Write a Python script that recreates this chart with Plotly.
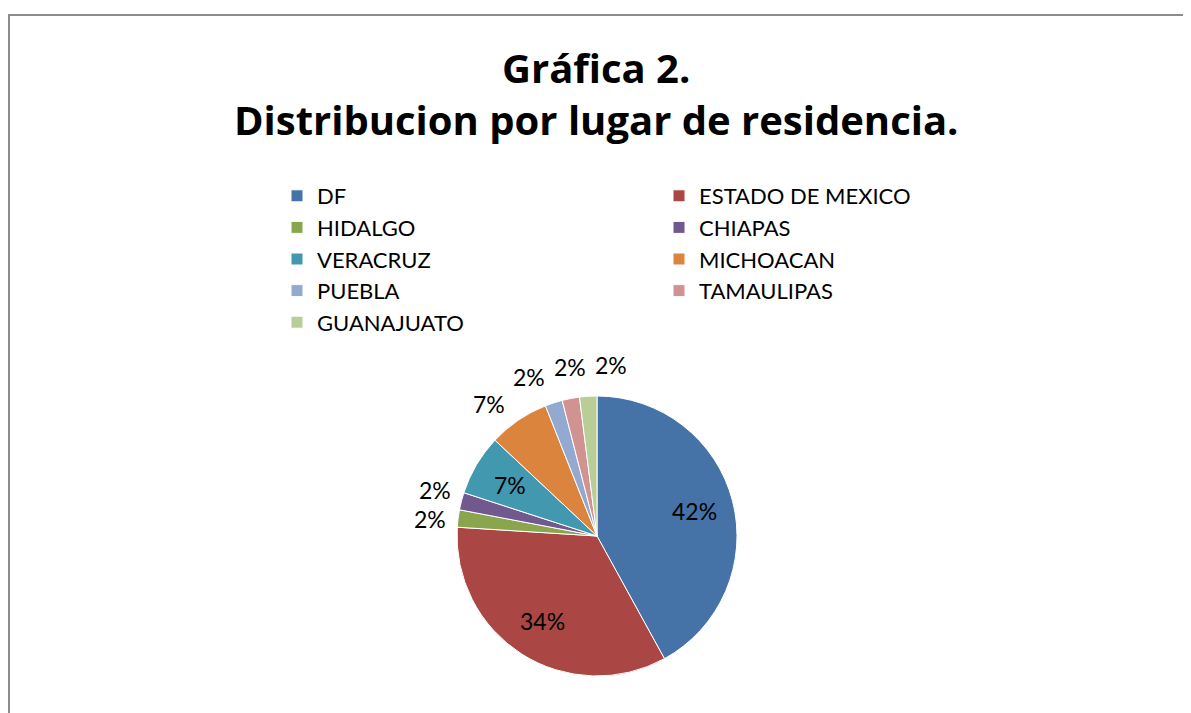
import numpy as np
import plotly.graph_objects as go

# Datos de la grafica
estados = ["DF", "ESTADO DE MEXICO", "HIDALGO", "CHIAPAS", "VERACRUZ",
           "MICHOACAN", "PUEBLA", "TAMAULIPAS", "GUANAJUATO"]
porcentajes = [42, 34, 2, 2, 7, 7, 2, 2, 2]
colores = ["#4572A7", "#AA4643", "#89A54E", "#71588F", "#4198AF",
           "#DB843D", "#93A9CF", "#D19392", "#B9CD96"]
posiciones = ["inside", "inside", "outside", "outside", "inside",
              "outside", "outside", "outside", "outside"]
titulo1 = "Gráfica 2."
titulo2 = "Distribucion por lugar de residencia."

fuente = "Lato"
fuente_titulo = "Open Sans"

# Geometria (pixeles de la figura)
W, H = 1191, 713
M = dict(l=150, r=141, t=100, b=20)
pw = W - M["l"] - M["r"]
ph = H - M["t"] - M["b"]
cx, cy, R = 589, 528, 140


def a_papel(x, y):
    # pixeles -> coordenadas paper
    return (x - M["l"]) / pw, (M["t"] + ph - y) / ph


dx0, dy0 = a_papel(cx - R, cy + R)
dx1, dy1 = a_papel(cx + R, cy - R)

fig = go.Figure()

fig.add_trace(go.Pie(
    labels=estados,
    values=porcentajes,
    sort=False,
    direction="clockwise",
    rotation=0,
    marker=dict(colors=colores, line=dict(color="white", width=1)),
    textinfo="none",
    domain=dict(x=[dx0, dx1], y=[dy0, dy1]),
    hoverinfo="label+percent",
))

# Etiquetas de porcentaje, estilo Excel (sin lineas guia)
total = sum(porcentajes)
acum = 0
etiq = []
for i, v in enumerate(porcentajes):
    ang = (acum + v / 2) / total * 2 * np.pi
    acum += v
    r = 0.72 * R if posiciones[i] == "inside" else 1.2 * R
    etiq.append([cx + r * np.sin(ang), cy - r * np.cos(ang), ang, posiciones[i]])

# separar etiquetas exteriores que se enciman
caja_w, caja_h = 40, 28
fuera = [e for e in etiq if e[3] == "outside"]
for _ in range(400):
    movido = False
    for a in range(len(fuera)):
        for b in range(a + 1, len(fuera)):
            p, q = fuera[a], fuera[b]
            if abs(p[0] - q[0]) < caja_w and abs(p[1] - q[1]) < caja_h:
                m = (p[2] + q[2]) / 2
                tx, ty = np.cos(m), np.sin(m)
                p[0] -= 0.5 * tx; p[1] -= 0.5 * ty
                q[0] += 0.5 * tx; q[1] += 0.5 * ty
                movido = True
    if not movido:
        break

anotaciones = []
for i, e in enumerate(etiq):
    ax, ay = a_papel(e[0], e[1])
    anotaciones.append(dict(
        x=ax, y=ay, xref="paper", yref="paper",
        text=f"{porcentajes[i]}%", showarrow=False,
        xanchor="center", yanchor="middle",
        font=dict(family=fuente, size=23, color="black"),
    ))

# Titulo en dos lineas
tx1, ty1 = a_papel(588, 59)
tx2, ty2 = a_papel(588, 111)
for txt, ty in [(titulo1, ty1), (titulo2, ty2)]:
    anotaciones.append(dict(
        x=tx1, y=ty, xref="paper", yref="paper", text=txt, showarrow=False,
        xanchor="center", yanchor="middle",
        font=dict(family=fuente_titulo, size=40, color="black", weight="bold"),
    ))

lx, ly = a_papel(269, 167)
bx0, by1 = a_papel(1, 7)

fig.update_layout(
    width=W,
    height=H,
    margin=M,
    paper_bgcolor="white",
    plot_bgcolor="white",
    legend=dict(
        orientation="h",
        x=lx, xanchor="left",
        y=ly, yanchor="top",
        entrywidth=337,
        font=dict(family=fuente, size=22, color="black"),
        traceorder="normal",
    ),
    annotations=anotaciones,
    shapes=[dict(
        type="rect", xref="paper", yref="paper",
        x0=bx0, x1=1.3, y0=-0.2, y1=by1,
        line=dict(color="#8c8c8c", width=2),
    )],
)

fig.write_html("out.html")
